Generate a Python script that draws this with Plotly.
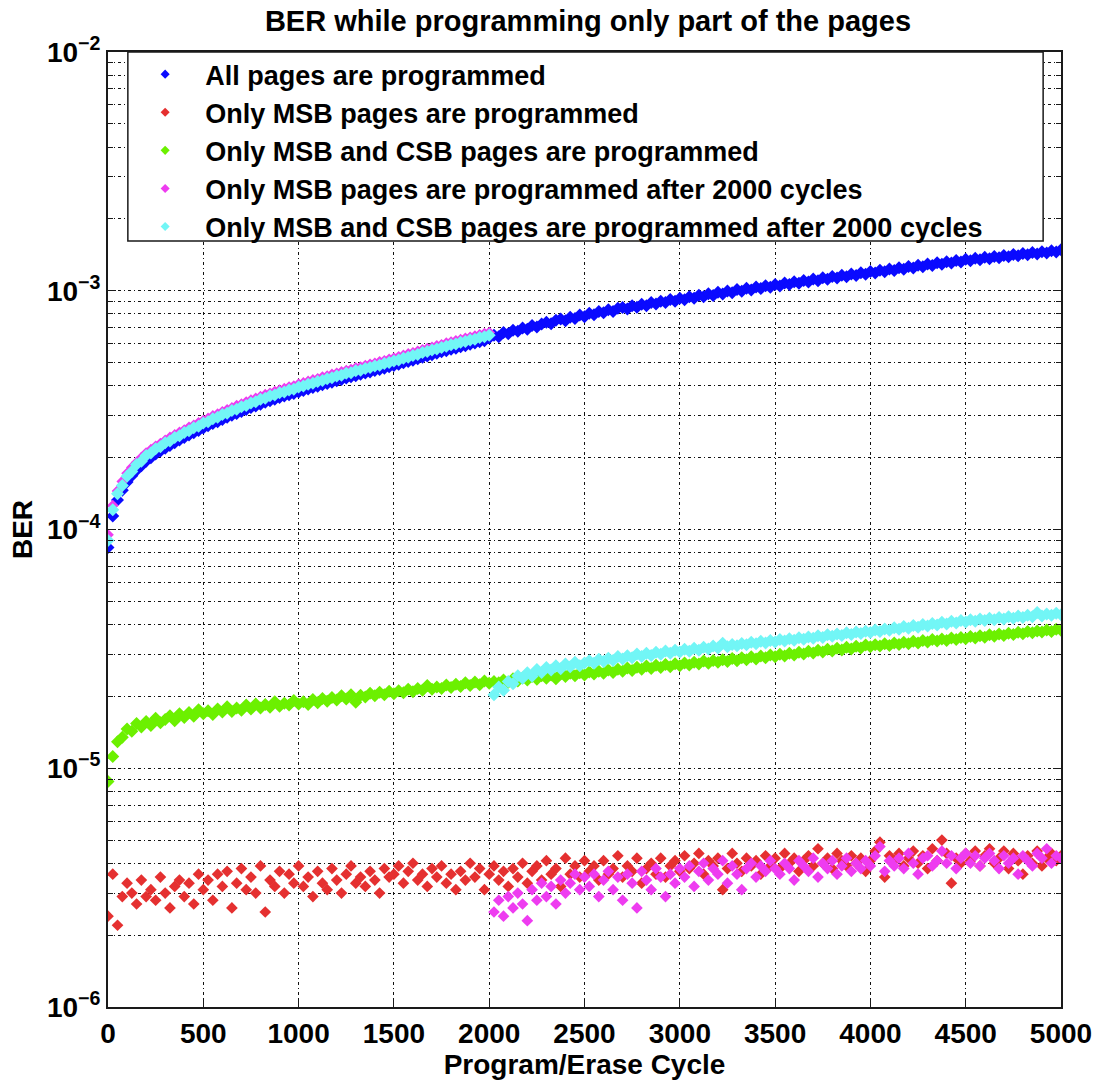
import plotly.graph_objects as go

# ---------------- data (BER values are given in units of 1e-6) ----------------
cycles = list(range(0, 5001, 25))

all_pages_e6 = [
    84, 114, 133, 146, 158, 168, 177, 185, 193, 200, 207, 213, 219, 225, 231, 237, 243, 249, 254, 260, 266,
    272, 278, 283, 289, 295, 301, 306, 312, 318, 324, 329, 335, 341, 346, 351, 357, 362, 367, 371, 377,
    382, 388, 393, 398, 404, 409, 414, 420, 425, 431, 436, 441, 447, 452, 457, 463, 468, 474, 480, 486,
    492, 499, 505, 512, 519, 527, 533, 540, 547, 555, 561, 569, 575, 583, 589, 597, 604, 612, 618, 634,
    651, 642, 668, 661, 684, 676, 698, 690, 716, 705, 726, 738, 727, 752, 761, 748, 774, 766, 791, 778,
    804, 794, 818, 808, 833, 818, 845, 850, 839, 865, 852, 878, 865, 893, 880, 903, 892, 918, 904, 931,
    917, 944, 931, 957, 943, 971, 956, 985, 969, 997, 982, 1011, 995, 1024, 1008, 1037, 1021, 1050, 1034, 1063,
    1047, 1077, 1061, 1091, 1074, 1105, 1088, 1119, 1102, 1133, 1116, 1147, 1130, 1162, 1144, 1176, 1158, 1190, 1172, 1204,
    1186, 1219, 1201, 1234, 1216, 1249, 1231, 1264, 1246, 1279, 1261, 1294, 1276, 1309, 1291, 1324, 1306, 1339, 1321, 1354,
    1336, 1367, 1349, 1380, 1362, 1393, 1375, 1406, 1388, 1419, 1401, 1432, 1414, 1445, 1427, 1458, 1440, 1471, 1453, 1484,
]

msb_only_e6 = [
    2.4, 3.6, 2.2, 2.9, 3.3, 3.0, 2.7, 3.4, 2.9, 3.1, 2.8, 3.5, 3.0, 2.6, 3.2, 3.4, 2.9, 3.3, 2.7, 3.6, 3.1,
    3.4, 2.8, 3.6, 3.2, 3.7, 2.6, 3.3, 3.8, 3.1, 3.5, 3.0, 3.9, 2.5, 3.4, 3.2, 3.7, 3.0, 3.6, 3.3, 3.9,
    3.2, 3.5, 2.9, 3.7, 3.3, 3.1, 3.8, 3.4, 3.0, 3.6, 3.9, 3.3, 3.5, 3.2, 3.7, 3.4, 3.0, 3.8, 3.5, 3.6,
    3.9, 3.3, 3.7, 4.0, 3.4, 3.6, 3.2, 3.8, 3.5, 3.9, 3.3, 3.6, 3.1, 3.7, 3.4, 4.0, 3.5, 3.8, 3.1, 3.6,
    3.9, 3.4, 3.7, 3.2, 3.8, 3.5, 4.0, 3.3, 3.7, 3.9, 3.4, 4.1, 3.6, 3.8, 3.2, 4.2, 3.6, 3.9, 3.5, 4.1,
    3.7, 3.9, 3.4, 4.1, 3.6, 3.8, 4.3, 3.5, 3.9, 3.7, 4.2, 3.3, 3.8, 4.0, 3.6, 4.2, 3.5, 3.9, 4.1, 3.7,
    4.3, 3.8, 4.0, 4.4, 3.6, 4.1, 3.9, 4.2, 3.1, 3.8, 4.4, 4.0, 3.7, 4.2, 3.9, 4.1, 3.6, 4.3, 3.9, 4.2,
    3.8, 4.4, 4.0, 4.2, 3.7, 4.1, 4.3, 3.9, 4.6, 4.0, 4.2, 3.8, 4.4, 4.1, 3.9, 4.3, 4.0, 4.2, 3.7, 4.1,
    4.5, 4.9, 3.5, 4.3, 4.1, 4.4, 3.9, 4.2, 4.5, 4.0, 4.3, 3.8, 4.6, 4.1, 5.0, 4.4, 3.3, 4.2, 4.0, 4.4,
    4.1, 4.5, 3.9, 4.3, 4.6, 4.0, 4.2, 4.5, 3.8, 4.4, 4.1, 3.6, 4.3, 4.0, 4.5, 3.9, 4.2, 4.4, 4.1, 4.3,
]

msb_csb_e6 = [
    8.8, 11.2, 12.9, 13.5, 14.6, 14.3, 15.4, 14.9, 15.7, 15.1, 16.2, 15.5, 16.0, 16.6, 15.8, 16.9, 16.3, 17.1, 16.5, 17.6, 16.9,
    17.4, 16.8, 17.7, 17.2, 18.1, 17.3, 17.9, 17.5, 18.4, 17.7, 18.6, 17.9, 18.5, 18.0, 19.0, 18.2, 18.7, 18.4, 19.2, 18.6,
    19.0, 18.5, 19.4, 18.8, 19.6, 19.1, 19.8, 19.3, 20.1, 19.5, 20.3, 18.9, 20.2, 19.9, 20.6, 20.1, 20.8, 20.3, 21.0, 20.5,
    21.1, 20.7, 21.4, 20.9, 21.6, 21.2, 22.2, 21.4, 21.9, 21.6, 22.3, 21.8, 22.5, 22.0, 22.8, 22.2, 23.0, 22.4, 23.2, 22.7,
    23.1, 22.8, 23.4, 22.9, 23.7, 23.2, 23.9, 23.4, 24.2, 23.6, 24.4, 23.8, 24.6, 23.7, 24.8, 24.2, 25.0, 24.4, 25.1, 24.6,
    25.3, 24.8, 25.5, 25.0, 25.8, 25.2, 26.0, 25.5, 26.3, 25.7, 26.5, 26.0, 26.8, 26.2, 27.0, 26.4, 27.2, 26.6, 27.4, 26.9,
    27.6, 27.1, 27.8, 27.3, 28.1, 27.5, 28.3, 27.8, 28.5, 28.0, 28.8, 28.2, 29.0, 28.5, 29.3, 28.7, 29.5, 29.0, 29.8, 29.3,
    30.0, 29.5, 30.3, 29.8, 30.6, 30.1, 30.9, 30.4, 31.2, 30.7, 31.5, 31.0, 31.8, 31.3, 32.1, 31.6, 32.4, 31.9, 32.8, 32.3,
    32.9, 32.5, 33.2, 32.7, 33.5, 33.0, 33.7, 33.2, 34.0, 33.5, 34.3, 33.8, 34.6, 34.1, 34.8, 34.3, 35.1, 34.6, 35.3, 34.9,
    35.6, 35.1, 35.9, 35.4, 36.2, 35.7, 36.5, 36.0, 36.8, 36.3, 37.1, 36.6, 37.4, 36.9, 37.6, 37.2, 37.9, 37.4, 38.2, 37.8,
]

msb_after2000_e6 = [
    95, 126, 145, 159, 172, 182, 191, 200, 209, 216, 223, 229, 236, 243, 249, 255, 261, 268, 273, 280, 286,
    292, 299, 304, 311, 317, 323, 330, 335, 342, 348, 354, 360, 367, 372, 378, 384, 389, 395, 399, 406,
    411, 417, 423, 428, 435, 439, 446, 451, 457, 463, 468, 475, 479, 486, 492, 497, 504, 509, 516, 522,
    529, 536, 544, 550, 558, 566, 573, 580, 588, 594, 603, 610, 617, 624, 632, 638, 646, 654, 661, 668,
    2.5, 2.8, 2.4, 2.9, 2.6, 3.0, 2.7, 2.3, 3.1, 2.8, 3.3, 2.9, 3.2, 2.7, 3.4, 3.0, 3.3, 3.6, 3.1, 3.5,
    3.2, 3.6, 2.9, 3.4, 3.7, 3.1, 3.5, 2.8, 3.6, 3.3, 2.6, 3.7, 3.4, 3.1, 3.8, 3.5, 2.9, 3.6, 3.3, 3.8,
    3.5, 3.9, 3.2, 3.7, 4.0, 3.4, 3.8, 3.6, 4.1, 3.3, 3.9, 3.6, 3.1, 3.8, 4.0, 3.5, 3.9, 3.7, 4.1, 3.8,
    3.6, 4.0, 3.8, 3.4, 4.1, 3.9, 3.7, 4.2, 3.5, 4.0, 3.8, 4.1, 3.6, 3.9, 4.2, 3.7, 4.0, 3.8, 4.1, 3.9,
    4.3, 4.7, 3.7, 4.1, 3.9, 4.2, 3.8, 4.4, 4.0, 3.6, 4.2, 4.3, 3.9, 4.1, 4.5, 4.0, 4.3, 3.8, 4.2, 4.4,
    4.0, 4.3, 3.9, 4.2, 4.4, 4.1, 3.8, 4.3, 4.0, 4.2, 3.6, 4.3, 4.1, 3.9, 4.4, 4.2, 4.6, 4.0, 4.3, 4.2,
]

msb_csb_after2000_e6 = [
    90, 121, 141, 153, 167, 175, 187, 193, 204, 209, 218, 222, 231, 235, 243, 247, 255, 259, 267, 271, 279,
    283, 291, 295, 303, 307, 315, 319, 327, 331, 339, 343, 351, 355, 363, 366, 374, 377, 384, 387, 395,
    399, 406, 410, 417, 421, 428, 432, 439, 443, 451, 454, 462, 465, 473, 477, 484, 488, 496, 500, 508,
    513, 522, 527, 536, 541, 551, 556, 565, 570, 579, 585, 594, 599, 608, 613, 622, 627, 637, 642, 651,
    20.3, 21.9, 21.2, 23.1, 22.6, 24.4, 23.8, 25.1, 24.3, 25.9, 25.2, 26.4, 25.8, 26.9, 26.1, 27.3, 26.6, 27.8, 26.9, 27.6,
    28.2, 27.5, 28.6, 28.0, 28.9, 28.3, 29.4, 28.7, 29.6, 29.0, 30.1, 29.4, 30.3, 29.7, 30.6, 30.0, 31.0, 30.3, 31.2, 30.7,
    31.5, 30.9, 31.8, 31.2, 32.1, 31.6, 32.5, 31.9, 33.4, 32.3, 33.0, 32.6, 33.3, 32.9, 33.7, 33.2, 34.0, 33.5, 34.3, 33.8,
    34.6, 34.1, 34.9, 34.4, 35.2, 34.7, 35.5, 35.0, 35.9, 35.3, 36.2, 35.7, 36.5, 36.0, 36.9, 36.3, 37.2, 36.7, 37.5, 37.0,
    37.9, 37.4, 38.3, 37.8, 38.8, 38.2, 39.2, 38.6, 39.6, 39.0, 40.0, 39.4, 40.4, 39.8, 40.9, 40.2, 41.3, 40.6, 41.6, 41.0,
    41.9, 41.3, 42.2, 41.6, 42.5, 41.9, 42.8, 42.2, 43.1, 42.5, 43.4, 42.8, 43.7, 43.1, 44.9, 43.4, 44.3, 43.7, 44.6, 44.0,
]

series_names = [
    "All pages are programmed",
    "Only MSB pages are programmed",
    "Only MSB and CSB pages are programmed",
    "Only MSB pages are programmed after 2000 cycles",
    "Only MSB and CSB pages are programmed after 2000 cycles",
]
series_values = [all_pages_e6, msb_only_e6, msb_csb_e6, msb_after2000_e6, msb_csb_after2000_e6]
series_colors = ["#0a0aff", "#e53030", "#6cf000", "#ee3cf0", "#72f6f6"]
series_symbols = ["diamond", "diamond", "diamond", "diamond", "diamond"]
series_sizes = [10, 9, 10, 9, 10]

x_ticks = list(range(0, 5001, 500))
y_major = [1e-6, 1e-5, 1e-4, 1e-3, 1e-2]
y_major_text = ["10<sup>\u22126</sup>", "10<sup>\u22125</sup>", "10<sup>\u22124</sup>",
                "10<sup>\u22123</sup>", "10<sup>\u22122</sup>"]
y_minor = [m * d for d in [1e-6, 1e-5, 1e-4, 1e-3] for m in range(2, 10)]

for v in series_values:
    assert len(v) == len(cycles), len(v)

# ---------------- figure ----------------
FONT = "Liberation Sans, Arial, Helvetica, sans-serif"
W, H = 1104, 1080
L, R, T, B = 108, 1068, 52, 1012

fig = go.Figure()
for name, vals, col, sym, sz in zip(series_names, series_values, series_colors, series_symbols, series_sizes):
    fig.add_trace(go.Scatter(
        x=cycles, y=[v * 1e-6 for v in vals], mode="markers", name=name,
        marker=dict(color=col, symbol=sym, size=sz, line=dict(width=0)),
        legendgroup=name, showlegend=False,
    ))
# legend entries with the small marker glyph used in the original legend
for name, col in zip(series_names, series_colors):
    fig.add_trace(go.Scatter(
        x=[None], y=[None], mode="markers", name=name,
        marker=dict(color=col, symbol="diamond", size=7, line=dict(width=0)),
        legendgroup=name, showlegend=True,
    ))

grid_dash = "3px,3px,1px,3px"
grid_col = "#111111"

fig.update_layout(
    width=W, height=H,
    margin=dict(l=L, r=W - R, t=T, b=H - B),
    paper_bgcolor="white", plot_bgcolor="white",
    font=dict(family=FONT, size=28, color="black", weight="bold"),
    title=dict(text="BER while programming only part of the pages",
               x=(L + R) / 2 / W, xref="container", xanchor="center",
               y=1 - 21 / H, yref="container", yanchor="middle",
               font=dict(family=FONT, size=29, color="black", weight="bold")),
    showlegend=True,
    legend=dict(
        x=0.018, y=1.002, xanchor="left", yanchor="top",
        bgcolor="rgba(0,0,0,0)", borderwidth=0,
        font=dict(family=FONT, size=27, color="black", weight="bold"),
        itemwidth=70, tracegroupgap=0, traceorder="normal",
    ),
    shapes=[dict(type="rect", xref="paper", yref="paper",
                 x0=(128 - L) / (R - L), x1=(1050 - L) / (R - L),
                 y0=(B - 242) / (B - T), y1=1.0,
                 line=dict(color="#1a1a1a", width=1.5), fillcolor="white", layer="above")],
)

fig.update_xaxes(
    range=[0, 5000], tickvals=x_ticks, ticktext=[str(t) for t in x_ticks],
    ticks="inside", ticklen=8, tickwidth=1, tickcolor="#1a1a1a",
    showline=True, linecolor="#1a1a1a", linewidth=2, mirror="allticks",
    showgrid=True, gridcolor=grid_col, gridwidth=1, griddash=grid_dash,
    zeroline=False,
    tickfont=dict(family=FONT, size=28, color="black", weight="bold"),
    title=dict(text="Program/Erase Cycle", standoff=0,
               font=dict(family=FONT, size=28, color="black", weight="bold")),
)

fig.update_yaxes(
    type="log", range=[-6, -2],
    tickvals=y_major, ticktext=y_major_text,
    ticks="inside", ticklen=8, tickwidth=1, tickcolor="#1a1a1a",
    showline=True, linecolor="#1a1a1a", linewidth=2, mirror="allticks",
    showgrid=True, gridcolor=grid_col, gridwidth=1, griddash=grid_dash,
    zeroline=False,
    tickfont=dict(family=FONT, size=28, color="black", weight="bold"),
    minor=dict(tickvals=y_minor, ticks="inside", ticklen=5, tickcolor="#1a1a1a",
               showgrid=True, gridcolor=grid_col, gridwidth=1, griddash=grid_dash),
    title=dict(text="BER", standoff=6,
               font=dict(family=FONT, size=28, color="black", weight="bold")),
)

fig.write_html("out.html")
